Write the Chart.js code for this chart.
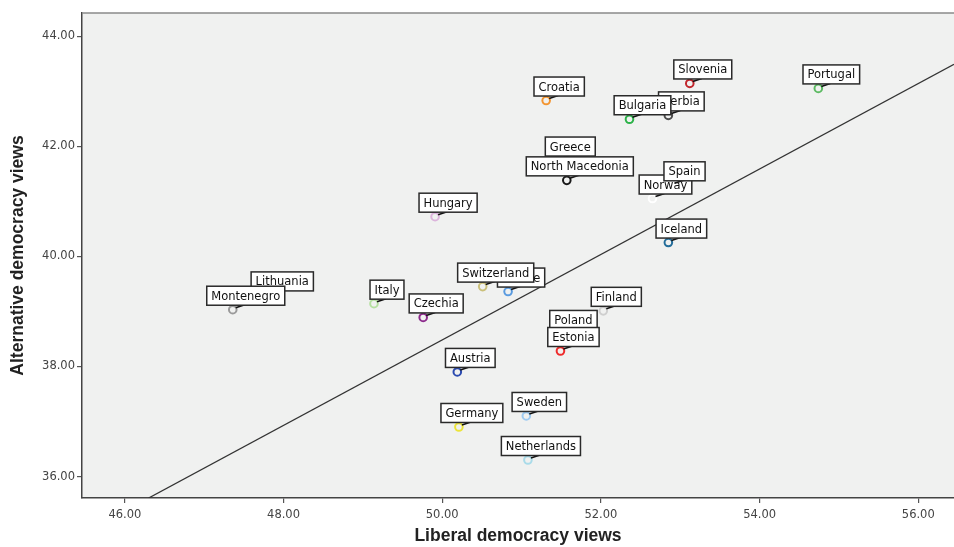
<!DOCTYPE html>
<html><head><meta charset="utf-8">
<script src="https://cdn.jsdelivr.net/npm/chart.js@4.4.0/dist/chart.umd.min.js"></script>
<style>html,body{margin:0;padding:0;background:#fff;overflow:hidden;}#wrap{width:954px;height:547px;position:relative;}</style>
</head><body><div id="wrap"><canvas id="c"></canvas></div>
<script>
// ---- data ----
const countries = ["Slovenia","Portugal","Croatia","Serbia","Bulgaria","Greece","North Macedonia","Norway","Spain","Iceland","Hungary","Lithuania","Montenegro","Italy","France","Switzerland","Czechia","Finland","Poland","Estonia","Austria","Sweden","Germany","Netherlands"];
const liberal     = [53.12,54.74,51.31,52.85,52.36,51.45,51.57,52.65,52.89,52.85,49.91,47.82,47.36,49.14,50.83,50.51,49.76,52.03,51.49,51.49,50.19,51.06,50.21,51.08];
const alternative = [43.14,43.05,42.83,42.56,42.49,41.74,41.38,41.05,41.29,40.25,40.72,39.29,39.03,39.14,39.36,39.45,38.89,39.01,38.59,38.28,37.90,37.10,36.90,36.30];
const pointColors = ["#c1272d","#5dbb63","#f39530","#4d4d4d","#2db34a","#6b6b6b","#1a1a1a","#ffffff","#e0a060","#236d9a","#dcb4dc","#888888","#9a9a9a","#b5e0a0","#5a9be0","#cbc07a","#8c2a8c","#cfcfcf","#cc6666","#ee2b2b","#2b4bb0","#9ecbf2","#ece43a","#a9dbe9"];
const xTicks = [46,48,50,52,54,56];
const yTicks = [36,38,40,42,44];
const fitLiberal = [46.30,56.45];
const fitAlternative = [35.61,43.49];

const points = countries.map((c,i)=>({x:liberal[i],y:alternative[i]}));
const fitLine = fitLiberal.map((v,i)=>({x:v,y:fitAlternative[i]}));

const bgPlugin = {
  id:'bg',
  beforeDraw(chart){
    const {ctx, chartArea:a} = chart;
    ctx.save();
    ctx.fillStyle = '#f0f1f0';
    ctx.fillRect(a.left, a.top, a.right-a.left, a.bottom-a.top);
    ctx.restore();
  },
  afterDraw(chart){
    const {ctx, chartArea:a} = chart;
    ctx.save();
    ctx.strokeStyle = '#8a8a8a'; ctx.lineWidth = 1.5;
    ctx.beginPath(); ctx.moveTo(a.left, a.top); ctx.lineTo(a.right, a.top); ctx.stroke();
    ctx.restore();
  }
};

const labelPlugin = {
  id:'pointLabels',
  afterDatasetsDraw(chart){
    const ctx = chart.ctx, xs = chart.scales.x, ys = chart.scales.y;
    ctx.save();
    ctx.font = '11.5px "DejaVu Sans"';
    ctx.textAlign = 'center'; ctx.textBaseline = 'middle';
    countries.forEach((name,i)=>{
      const px = xs.getPixelForValue(liberal[i]);
      const py = ys.getPixelForValue(alternative[i]);
      const cx = px + 13, cy = py - 14;
      const w = ctx.measureText(name).width + 9, h = 19;
      ctx.strokeStyle = '#111'; ctx.lineWidth = 1.6;
      ctx.beginPath(); ctx.moveTo(px+3, py-2); ctx.lineTo(px+12, py-5); ctx.stroke();
      ctx.fillStyle = '#fff';
      ctx.fillRect(cx-w/2, cy-h/2, w, h);
      ctx.strokeStyle = '#2a2a2a'; ctx.lineWidth = 1.5;
      ctx.strokeRect(cx-w/2, cy-h/2, w, h);
      ctx.fillStyle = '#111';
      ctx.fillText(name, cx, cy+1);
    });
    ctx.restore();
  }
};

new Chart(document.getElementById('c'), {
  type:'scatter',
  data:{datasets:[
    {data:fitLine, type:'line', showLine:true, borderColor:'#333', borderWidth:1.3, pointRadius:0, fill:false, order:2},
    {data:points, pointRadius:3.8, pointBorderWidth:2, pointBorderColor:pointColors, pointBackgroundColor:'#f0f1f0', pointStyle:'circle', order:1}
  ]},
  options:{
    responsive:true, maintainAspectRatio:false, animation:false,
    layout:{autoPadding:false, padding:{top:13,right:0,left:0,bottom:0}},
    plugins:{legend:{display:false}, tooltip:{enabled:false}},
    scales:{
      x:{type:'linear', min:45.46, max:56.45,
        afterBuildTicks(s){ s.ticks = xTicks.map(v=>({value:v})); },
        afterFit(s){ s.height = 49; s.paddingLeft = 0; s.paddingRight = 0; },
        ticks:{callback:v=>Number(v).toFixed(2), font:{family:'DejaVu Sans', size:11.5}, color:'#444', padding:5, maxRotation:0, autoSkip:false},
        grid:{display:true, drawOnChartArea:false, drawTicks:true, tickLength:5, color:'#555', lineWidth:1.2},
        border:{display:true, color:'#444', width:1.5},
        title:{display:true, text:'Liberal democracy views', font:{family:'Liberation Sans', size:17.5, weight:'bold'}, color:'#222', padding:0}
      },
      y:{type:'linear', min:35.61, max:44.42,
        afterBuildTicks(s){ s.ticks = yTicks.map(v=>({value:v})); },
        afterFit(s){ s.width = 82; s.paddingTop = 0; s.paddingBottom = 0; },
        ticks:{callback:v=>Number(v).toFixed(2), font:{family:'DejaVu Sans', size:11.5}, color:'#444', padding:2, autoSkip:false},
        grid:{display:true, drawOnChartArea:false, drawTicks:true, tickLength:5, color:'#555', lineWidth:1.2},
        border:{display:true, color:'#444', width:1.5},
        title:{display:true, text:'Alternative democracy views', font:{family:'Liberation Sans', size:17.5, weight:'bold'}, color:'#222', padding:{top:8,bottom:0}}
      }
    }
  },
  plugins:[bgPlugin, labelPlugin]
});
</script></body></html>
